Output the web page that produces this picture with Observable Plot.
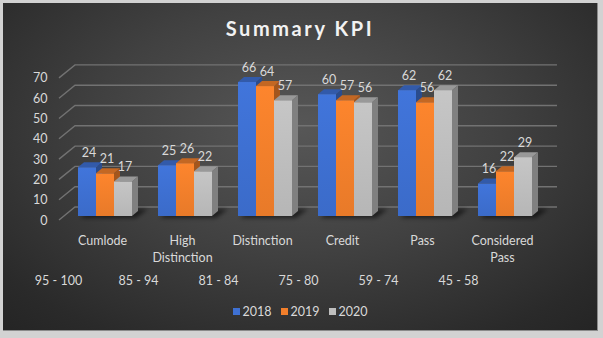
<!DOCTYPE html>
<html>
<head>
<meta charset="utf-8">
<script src="https://cdn.jsdelivr.net/npm/d3@7"></script>
<script src="https://cdn.jsdelivr.net/npm/@observablehq/plot@0.6"></script>
<style>
  html, body { margin: 0; padding: 0; width: 603px; height: 338px; overflow: hidden; background: #d2d2d2; }
  #panel {
    position: absolute; left: 3px; top: 3px; width: 594px; height: 327px;
    background: radial-gradient(ellipse 75% 85% at 50% 38%, #575757 0%, #414141 45%, #2a2a2a 85%, #242424 100%);
    border-right: 1px solid #8a8a8a; border-bottom: 1px solid #8a8a8a;
    font-family: Lato, "Open Sans", sans-serif;
  }
  #title {
    height: 50px; line-height: 50px; text-align: center; color: #f2f2f2;
    font-weight: 700; font-size: 20px; letter-spacing: 2.6px;
  }
  #chart svg { display: block; overflow: visible; }
  #legend { height: 26px; display: flex; justify-content: center; align-items: center; }
  #legend .kpi-swatches { font-family: Lato, "Open Sans", sans-serif; font-size: 12.5px; color: #d9d9d9; min-height: 0; margin: 0; display: flex; align-items: center; }
  #legend .kpi-swatch { margin-right: 9px; }
  #legend .kpi-swatch:last-child { margin-right: 0; }
  #legend .kpi-swatch svg { margin-right: 3px; }
</style>
</head>
<body>
<div id="panel">
  <div id="title">Summary KPI</div>
  <div id="chart"></div>
  <div id="legend"></div>
</div>
<script>
// Grade categories, score bands and yearly results
const categories = ["Cumlode", "High Distinction", "Distinction", "Credit", "Pass", "Considered Pass"];
const scoreRanges = ["95 - 100", "85 - 94", "81 - 84", "75 - 80", "59 - 74", "45 - 58"];
const years = ["2018", "2019", "2020"];
const values2018 = [24, 25, 66, 60, 62, 16];
const values2019 = [21, 26, 64, 57, 56, 22];
const values2020 = [17, 22, 57, 56, 62, 29];
const yTicks = [0, 10, 20, 30, 40, 50, 60, 70];
const yearColors = ["#3e70d2", "#f27f2b", "#bebebe"];

const series = [values2018, values2019, values2020];
const rows = categories.flatMap((category, i) =>
  series.map((vals, j) => ({category, year: years[j], value: vals[i]}))
);

// depth of the extruded bars and of the back wall
const DEPTH_X = 6, DEPTH_Y = 5;
const WALL_X = 16, WALL_Y = 13;

// Back-wall grid: a short floor diagonal then a horizontal line per tick
function wallGrid(index, scales, values, dims) {
  const g = d3.create("svg:g").attr("fill", "none").attr("stroke", "#727272").attr("stroke-width", 1.4);
  const xb = dims.marginLeft, xf = xb - WALL_X, xe = dims.width - dims.marginRight;
  for (const i of index) {
    const y = values.y[i];
    g.append("path").attr("d", `M${xf},${y + 4}L${xb},${y + 4 - WALL_Y}L${xe},${y + 4 - WALL_Y}`);
  }
  return g.node();
}

// Clustered 3D columns: each category band is split into one prism per year
function prisms(index, scales, values, dims, context, next) {
  const base = next(index, scales, values, dims, context);
  const rects = base.querySelectorAll("rect");
  const g = d3.create("svg:g");
  const defs = g.append("defs");
  const blur = defs.append("filter").attr("id", "floor-shadow").attr("x", "-20%").attr("y", "-100%").attr("width", "140%").attr("height", "300%");
  blur.append("feGaussianBlur").attr("stdDeviation", 2.2);
  yearColors.forEach((c, j) => {
    const lg = defs.append("linearGradient").attr("id", "front-" + j).attr("x1", 0).attr("x2", 0).attr("y1", 0).attr("y2", 1);
    lg.append("stop").attr("offset", 0).attr("stop-color", d3.color(c).brighter(0.12));
    lg.append("stop").attr("offset", 1).attr("stop-color", d3.color(c).darker(0.12));
  });
  const y0 = scales.y(0);
  const shadows = g.append("g").attr("filter", "url(#floor-shadow)");
  const bars = g.append("g");
  const labels = g.append("g").attr("fill", "#d9d9d9").attr("font-size", 12.5).attr("text-anchor", "middle");
  index.forEach((i, k) => {
    const d = rows[i];
    const j = years.indexOf(d.year);
    const bx = +rects[k].getAttribute("x");
    const bw = +rects[k].getAttribute("width");
    const w = bw / 3;
    const x0 = bx + j * w, x1 = x0 + w;
    const yt = scales.y(d.value);
    const color = d3.color(scales.color(d.year));
    if (j === 0) {
      shadows.append("path")
        .attr("d", `M${bx + 2},${y0 + 2}L${bx + bw + 4},${y0 + 2}L${bx + bw + 16},${y0 - 7}L${bx + 12},${y0 - 7}Z`)
        .attr("fill", "rgba(0,0,0,0.55)");
    }
    const gb = bars.append("g");
    gb.append("path")
      .attr("d", `M${x1},${yt}L${x1 + DEPTH_X},${yt - DEPTH_Y}L${x1 + DEPTH_X},${y0 - DEPTH_Y}L${x1},${y0}Z`)
      .attr("fill", color.darker(1.1));
    gb.append("path")
      .attr("d", `M${x0},${yt}L${x0 + DEPTH_X},${yt - DEPTH_Y}L${x1 + DEPTH_X},${yt - DEPTH_Y}L${x1},${yt}Z`)
      .attr("fill", color.darker(0.6));
    gb.append("rect").attr("x", x0).attr("y", yt).attr("width", w).attr("height", y0 - yt)
      .attr("fill", `url(#front-${j})`);
    labels.append("text").attr("x", x0 + w / 2 + 2).attr("y", yt - 14.5).attr("dy", "0.35em").text(d.value);
  });
  return g.node();
}

const plot = Plot.plot({
  width: 594,
  height: 245,
  marginLeft: 72,
  marginRight: 40,
  marginTop: 0,
  marginBottom: 0,
  style: {background: "transparent", color: "#d9d9d9", fontFamily: "Lato, 'Open Sans', sans-serif", fontSize: "12.5px", overflow: "visible"},
  x: {domain: categories, range: [47.5, 556.5], padding: 0.33, axis: null},
  y: {domain: [0, 70], range: [163, 20.9], axis: null},
  color: {domain: years, range: yearColors},
  marks: [
    Plot.ruleY(yTicks, {y: d => d, render: wallGrid}),
    Plot.axisY(yTicks, {tickSize: 0, tickPadding: 28, dy: 4, fontSize: 12.5, fill: "#d9d9d9", label: null}),
    Plot.barY(rows, {x: "category", y: "value", fill: "year", render: prisms}),
    Plot.text(categories, {
      x: d => d, y: () => 0, dx: -3, dy: 16.5, lineAnchor: "top", lineHeight: 1.36,
      text: d => d.replace(" ", "\n"), fill: "#d9d9d9", fontSize: 12.5
    }),
    Plot.text(scoreRanges, {
      x: (d, i) => categories[i], y: () => 0, dx: -47, dy: 64,
      text: d => d, fill: "#d9d9d9", fontSize: 12.5
    })
  ]
});
document.getElementById("chart").append(plot);

const legend = plot.legend("color", {legend: "swatches", swatchSize: 7, className: "kpi"});
document.getElementById("legend").append(legend);
</script>
</body>
</html>
